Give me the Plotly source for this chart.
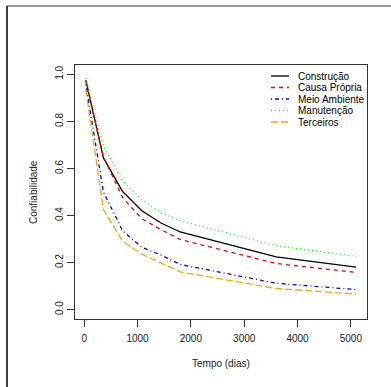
import plotly.graph_objects as go

# ---- data ----
tempo = [30, 360, 720, 1080, 1440, 1800, 3600, 5100]
construcao = [0.976, 0.645, 0.502, 0.420, 0.368, 0.330, 0.224, 0.181]
causa_propria = [0.972, 0.650, 0.476, 0.386, 0.340, 0.298, 0.196, 0.158]
meio_ambiente = [0.958, 0.500, 0.335, 0.265, 0.232, 0.192, 0.112, 0.085]
manutencao = [0.984, 0.695, 0.548, 0.467, 0.412, 0.378, 0.272, 0.226]
terceiros = [0.935, 0.425, 0.290, 0.236, 0.198, 0.160, 0.090, 0.066]

series_names = ["Construção", "Causa Própria", "Meio Ambiente", "Manutenção", "Terceiros"]
series_values = [construcao, causa_propria, meio_ambiente, manutencao, terceiros]
x_ticks = [0, 1000, 2000, 3000, 4000, 5000]
y_ticks = [0.0, 0.2, 0.4, 0.6, 0.8, 1.0]
y_tick_labels = ["0.0", "0.2", "0.4", "0.6", "0.8", "1.0"]

colors = ["#000000", "#FF0000", "#0000FF", "#00FF00", "#FFA500"]
dashes = ["solid", "4px,4px", "1px,3px,4px,3px", "1px,3px", "7px,3px"]

W, H = 391, 387
L, R, T, B = 75, 24, 65, 68
PW, PH = W - L - R, H - T - B
FONT = "Liberation Sans, Arial, sans-serif"

def px(x):
    return (x - L) / PW

def py(y):
    return (H - B - y) / PH

fig = go.Figure()
for name, vals, c, d in zip(series_names, series_values, colors, dashes):
    fig.add_trace(go.Scatter(x=tempo, y=vals, mode="lines", name=name,
                             line=dict(color=c, width=1.3, dash=d),
                             showlegend=False))

shapes = []
annotations = []
# legend (manual, R-style)
for i, (name, c, d) in enumerate(zip(series_names, colors, dashes)):
    yy = 76 + i * 11.5
    shapes.append(dict(type="line", xref="paper", yref="paper",
                       x0=px(271), x1=px(289), y0=py(yy), y1=py(yy),
                       line=dict(color=c, width=1.3, dash=d)))
    annotations.append(dict(xref="paper", yref="paper", x=px(296), y=py(yy),
                            text=name, showarrow=False, xanchor="left",
                            yanchor="middle", font=dict(size=10, color="#000", family=FONT)))

# axis titles
annotations.append(dict(xref="paper", yref="paper", x=px(221), y=py(363),
                        text="Tempo (dias)", showarrow=False, xanchor="center",
                        yanchor="middle", font=dict(size=10, color="#222", family=FONT)))
annotations.append(dict(xref="paper", yref="paper", x=px(33), y=py(192),
                        text="Confiabilidade", showarrow=False, textangle=-90,
                        xanchor="center", yanchor="middle",
                        font=dict(size=10, color="#222", family=FONT)))

# outer frame (top and left edges)
shapes.append(dict(type="line", xref="paper", yref="paper",
                   x0=px(7), x1=px(400), y0=py(6), y1=py(6),
                   line=dict(color="#777", width=1.5)))
shapes.append(dict(type="line", xref="paper", yref="paper",
                   x0=px(7), x1=px(7), y0=py(6), y1=py(400),
                   line=dict(color="#000", width=1.5)))

fig.update_layout(
    width=W, height=H,
    margin=dict(l=L, r=R, t=T, b=B),
    paper_bgcolor="white", plot_bgcolor="white",
    font=dict(family=FONT, size=10, color="#222"),
    shapes=shapes, annotations=annotations,
    showlegend=False,
)
fig.update_xaxes(range=[-172.8, 5302.8], tickvals=x_ticks, ticks="outside",
                 ticklen=7, tickcolor="#333", showline=True, mirror=True,
                 linecolor="#333", linewidth=1.2, showgrid=False, zeroline=False,
                 ticklabelstandoff=3,
                 tickfont=dict(size=10, color="#222"))
fig.update_yaxes(range=[-0.04, 1.04], tickvals=y_ticks, ticktext=y_tick_labels,
                 ticks="outside", ticklen=7, tickcolor="#333", tickangle=-90,
                 showline=True, mirror=True, linecolor="#333", linewidth=1.2,
                 showgrid=False, zeroline=False, tickfont=dict(size=10, color="#222"))

fig.write_html("out.html")
